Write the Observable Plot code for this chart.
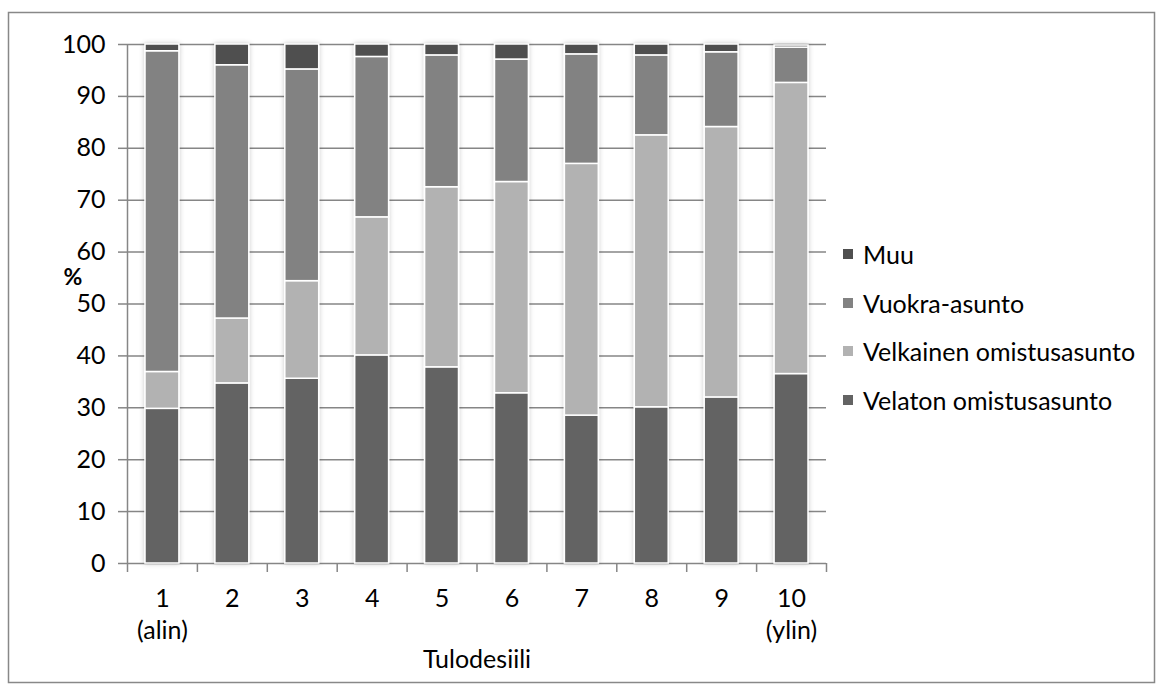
<!DOCTYPE html>
<html>
<head>
<meta charset="utf-8">
<script src="https://cdn.jsdelivr.net/npm/d3@7"></script>
<script src="https://cdn.jsdelivr.net/npm/@observablehq/plot@0.6"></script>
<style>
  body { margin: 0; background: #fff; }
  #wrap { position: relative; width: 1157px; height: 684px; font-family: Lato, "Open Sans", sans-serif; }
  #legend { position: absolute; left: 843px; top: 230px; font-size: 25px; color: #000; }
  #legend .item { display: flex; align-items: center; height: 48.5px; white-space: nowrap; }
  #legend .sw { width: 10px; height: 10px; margin-right: 10px; flex: none; }
</style>
</head>
<body>
<div id="wrap"><div id="legend"></div></div>
<script>
// ---- data ----
const deciles = [1, 2, 3, 4, 5, 6, 7, 8, 9, 10];
const decileLabels = ["1\n(alin)", "2", "3", "4", "5", "6", "7", "8", "9", "10\n(ylin)"];
const seriesNames = ["Velaton omistusasunto", "Velkainen omistusasunto", "Vuokra-asunto", "Muu"];
const velaton   = [29.8, 34.7, 35.6, 40.1, 37.8, 32.8, 28.5, 30.1, 32.0, 36.5];
const velkainen = [7.1, 12.5, 18.8, 26.6, 34.7, 40.7, 48.5, 52.4, 52.1, 56.1];
const vuokra    = [61.8, 48.8, 40.8, 30.9, 25.4, 23.6, 21.1, 15.4, 14.4, 6.8];
const muu       = [1.3, 4.0, 4.8, 2.4, 2.1, 2.9, 1.9, 2.1, 1.5, 0.4];
const yTicks = [0, 10, 20, 30, 40, 50, 60, 70, 80, 90, 100];
const seriesColors = ["#636363", "#b2b2b2", "#828282", "#4f4f4f"];
const xTitle = "Tulodesiili";
const yTitle = "%";

// ---- build stacked table ----
const seriesValues = [velaton, velkainen, vuokra, muu];
const rows = deciles.flatMap((dec, i) => {
  let acc = 0;
  return seriesNames.map((s, k) => {
    const v = seriesValues[k][i];
    const r = {dec, series: s, y1: acc, y2: acc + v};
    acc += v;
    return r;
  });
});

const gray = "#868686";
const fs = 25;
const chart = Plot.plot({
  width: 1157,
  height: 684,
  marginLeft: 127,
  marginRight: 331,
  marginTop: 44,
  marginBottom: 121,
  style: {fontFamily: "Lato, 'Open Sans', sans-serif", fontSize: fs + "px", color: "#000", background: "#fff"},
  x: {type: "linear", domain: [0.5, 10.5], axis: null},
  y: {domain: [0, 100], axis: null},
  color: {domain: seriesNames, range: seriesColors},
  marks: [
    Plot.ruleY(yTicks, {stroke: gray, strokeWidth: 1.5}),
    Plot.ruleX([0.5], {y1: 0, y2: 100, stroke: gray, strokeWidth: 1.5}),
    Plot.axisY({ticks: yTicks, tickSize: 9, tickPadding: 13, stroke: gray, strokeWidth: 1.5, fill: "#000", fontSize: fs, label: null}),
    Plot.axisX({ticks: d3.range(0.5, 11, 1), tickSize: 9, stroke: gray, strokeWidth: 1.5, tickFormat: () => "", label: null}),
    Plot.axisX({ticks: deciles, tickSize: 0, tickPadding: 20, fill: "#000", fontSize: fs, lineHeight: 1.3,
      tickFormat: d => decileLabels[deciles.indexOf(d)], label: null}),
    Plot.rect(rows, {
      x1: d => d.dec - 0.5, x2: d => d.dec + 0.5, y1: "y1", y2: "y2",
      fill: "series", insetLeft: 18, insetRight: 18, stroke: "white", strokeWidth: 1.5
    }),
    Plot.text([xTitle], {frameAnchor: "bottom", dy: 104, fontSize: fs, fill: "#000"}),
    Plot.text([yTitle], {frameAnchor: "left", dx: -64, dy: -26, fontSize: 23, fontWeight: "bold", fill: "#000"})
  ]
});

const svg = d3.select(chart);
const defs = svg.insert("defs", ":first-child");
const f = defs.append("filter").attr("id", "barShadow").attr("x", "-30%").attr("y", "-5%").attr("width", "160%").attr("height", "110%");
f.append("feDropShadow").attr("dx", 0).attr("dy", 0).attr("stdDeviation", 2.5).attr("flood-color", "#000").attr("flood-opacity", 0.22);
svg.selectAll('g[aria-label="rect"]').attr("filter", "url(#barShadow)");
svg.append("rect").attr("x", 8.5).attr("y", 12.5).attr("width", 1146).attr("height", 670)
  .attr("fill", "none").attr("stroke", "#888").attr("stroke-width", 1.5);

const wrap = document.getElementById("wrap");
wrap.insertBefore(chart, wrap.firstChild);
chart.style.position = "absolute";
chart.style.left = "0";
chart.style.top = "0";

const legend = d3.select("#legend");
["Muu", "Vuokra-asunto", "Velkainen omistusasunto", "Velaton omistusasunto"].forEach(name => {
  const it = legend.append("div").attr("class", "item");
  it.append("div").attr("class", "sw").style("background", seriesColors[seriesNames.indexOf(name)]);
  it.append("span").text(name);
});
</script>
</body>
</html>
